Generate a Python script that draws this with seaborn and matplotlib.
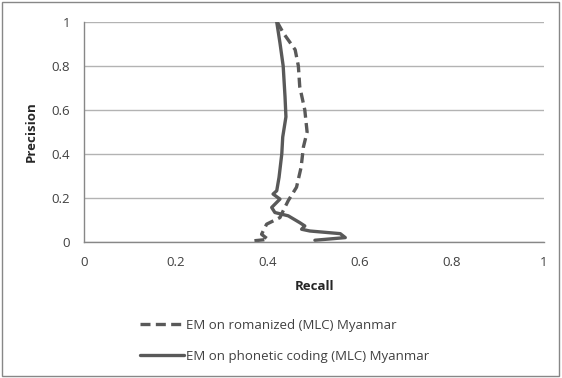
import matplotlib
matplotlib.use("Agg")
import matplotlib.pyplot as plt
import seaborn as sns
import pandas as pd
from matplotlib.patches import Rectangle

# Data (Recall, Precision)
rom_recall = [0.420, 0.433, 0.459, 0.466, 0.469, 0.480, 0.485, 0.477, 0.472, 0.462,
              0.444, 0.433, 0.426, 0.397, 0.386, 0.400, 0.367]
rom_precision = [1.000, 0.951, 0.874, 0.800, 0.706, 0.600, 0.500, 0.432, 0.340, 0.249,
                 0.188, 0.142, 0.111, 0.081, 0.035, 0.012, 0.005]

pho_recall = [0.419, 0.426, 0.433, 0.437, 0.439, 0.432, 0.430, 0.424, 0.419, 0.411,
              0.426, 0.408, 0.415, 0.444, 0.469, 0.480, 0.473, 0.491, 0.557, 0.568, 0.502]
pho_precision = [1.000, 0.905, 0.800, 0.660, 0.569, 0.477, 0.401, 0.294, 0.233, 0.218,
                 0.195, 0.157, 0.134, 0.119, 0.088, 0.073, 0.058, 0.050, 0.038, 0.020, 0.008]

x_ticks = [0, 0.2, 0.4, 0.6, 0.8, 1]
y_ticks = [0, 0.2, 0.4, 0.6, 0.8, 1]
tick_labels = ["0", "0.2", "0.4", "0.6", "0.8", "1"]

label_rom = "EM on romanized (MLC) Myanmar"
label_pho = "EM on phonetic coding (MLC) Myanmar"

df_rom = pd.DataFrame({"Recall": rom_recall, "Precision": rom_precision})
df_pho = pd.DataFrame({"Recall": pho_recall, "Precision": pho_precision})

sns.set_style("white")
plt.rcParams["font.family"] = ["Open Sans", "DejaVu Sans"]

fig = plt.figure(figsize=(5.62, 3.78), dpi=100)
ax = fig.add_axes([84/562, 1-242/378, 460/562, 220/378])

col = "#595959"
sns.lineplot(data=df_rom, x="Recall", y="Precision", sort=False, estimator=None,
             ax=ax, color=col, lw=2.4, linestyle=(0, (3, 1.6)), label=label_rom)
sns.lineplot(data=df_pho, x="Recall", y="Precision", sort=False, estimator=None,
             ax=ax, color=col, lw=2.4, linestyle="-", label=label_pho)

ax.set_xlim(0, 1)
ax.set_ylim(0, 1)
ax.set_xticks(x_ticks)
ax.set_xticklabels(tick_labels)
ax.set_yticks(y_ticks)
ax.set_yticklabels(tick_labels)
ax.yaxis.grid(True, color="#b3b3b3", lw=1)
ax.xaxis.grid(False)
for s in ["top", "right"]:
    ax.spines[s].set_visible(False)
for s in ["left", "bottom"]:
    ax.spines[s].set_color("#878787")
    ax.spines[s].set_linewidth(1)
ax.tick_params(axis="both", direction="out", length=4, width=1, color="#878787",
               labelsize=9.5, labelcolor="#404040", pad=4)
ax.tick_params(axis="x", pad=6)
ax.tick_params(axis="y", pad=6)
ax.set_xlabel("Recall", fontweight="bold", fontsize=9.5, color="#262626", labelpad=8)
ax.set_ylabel("Precision", fontweight="bold", fontsize=9.5, color="#262626", labelpad=10)

leg = ax.legend(loc="upper left", bbox_to_anchor=(140/562, 1-319/378),
                bbox_transform=fig.transFigure, frameon=False, fontsize=9.5,
                handlelength=3.3, handletextpad=0.2, labelspacing=1.35,
                borderaxespad=0, borderpad=0)
for t in leg.get_texts():
    t.set_color("#404040")

fig.patches.append(Rectangle((0.003, 0.005), 0.992, 0.99, transform=fig.transFigure,
                             fill=False, edgecolor="#878787", lw=1))

fig.savefig("out.png", dpi=100)
